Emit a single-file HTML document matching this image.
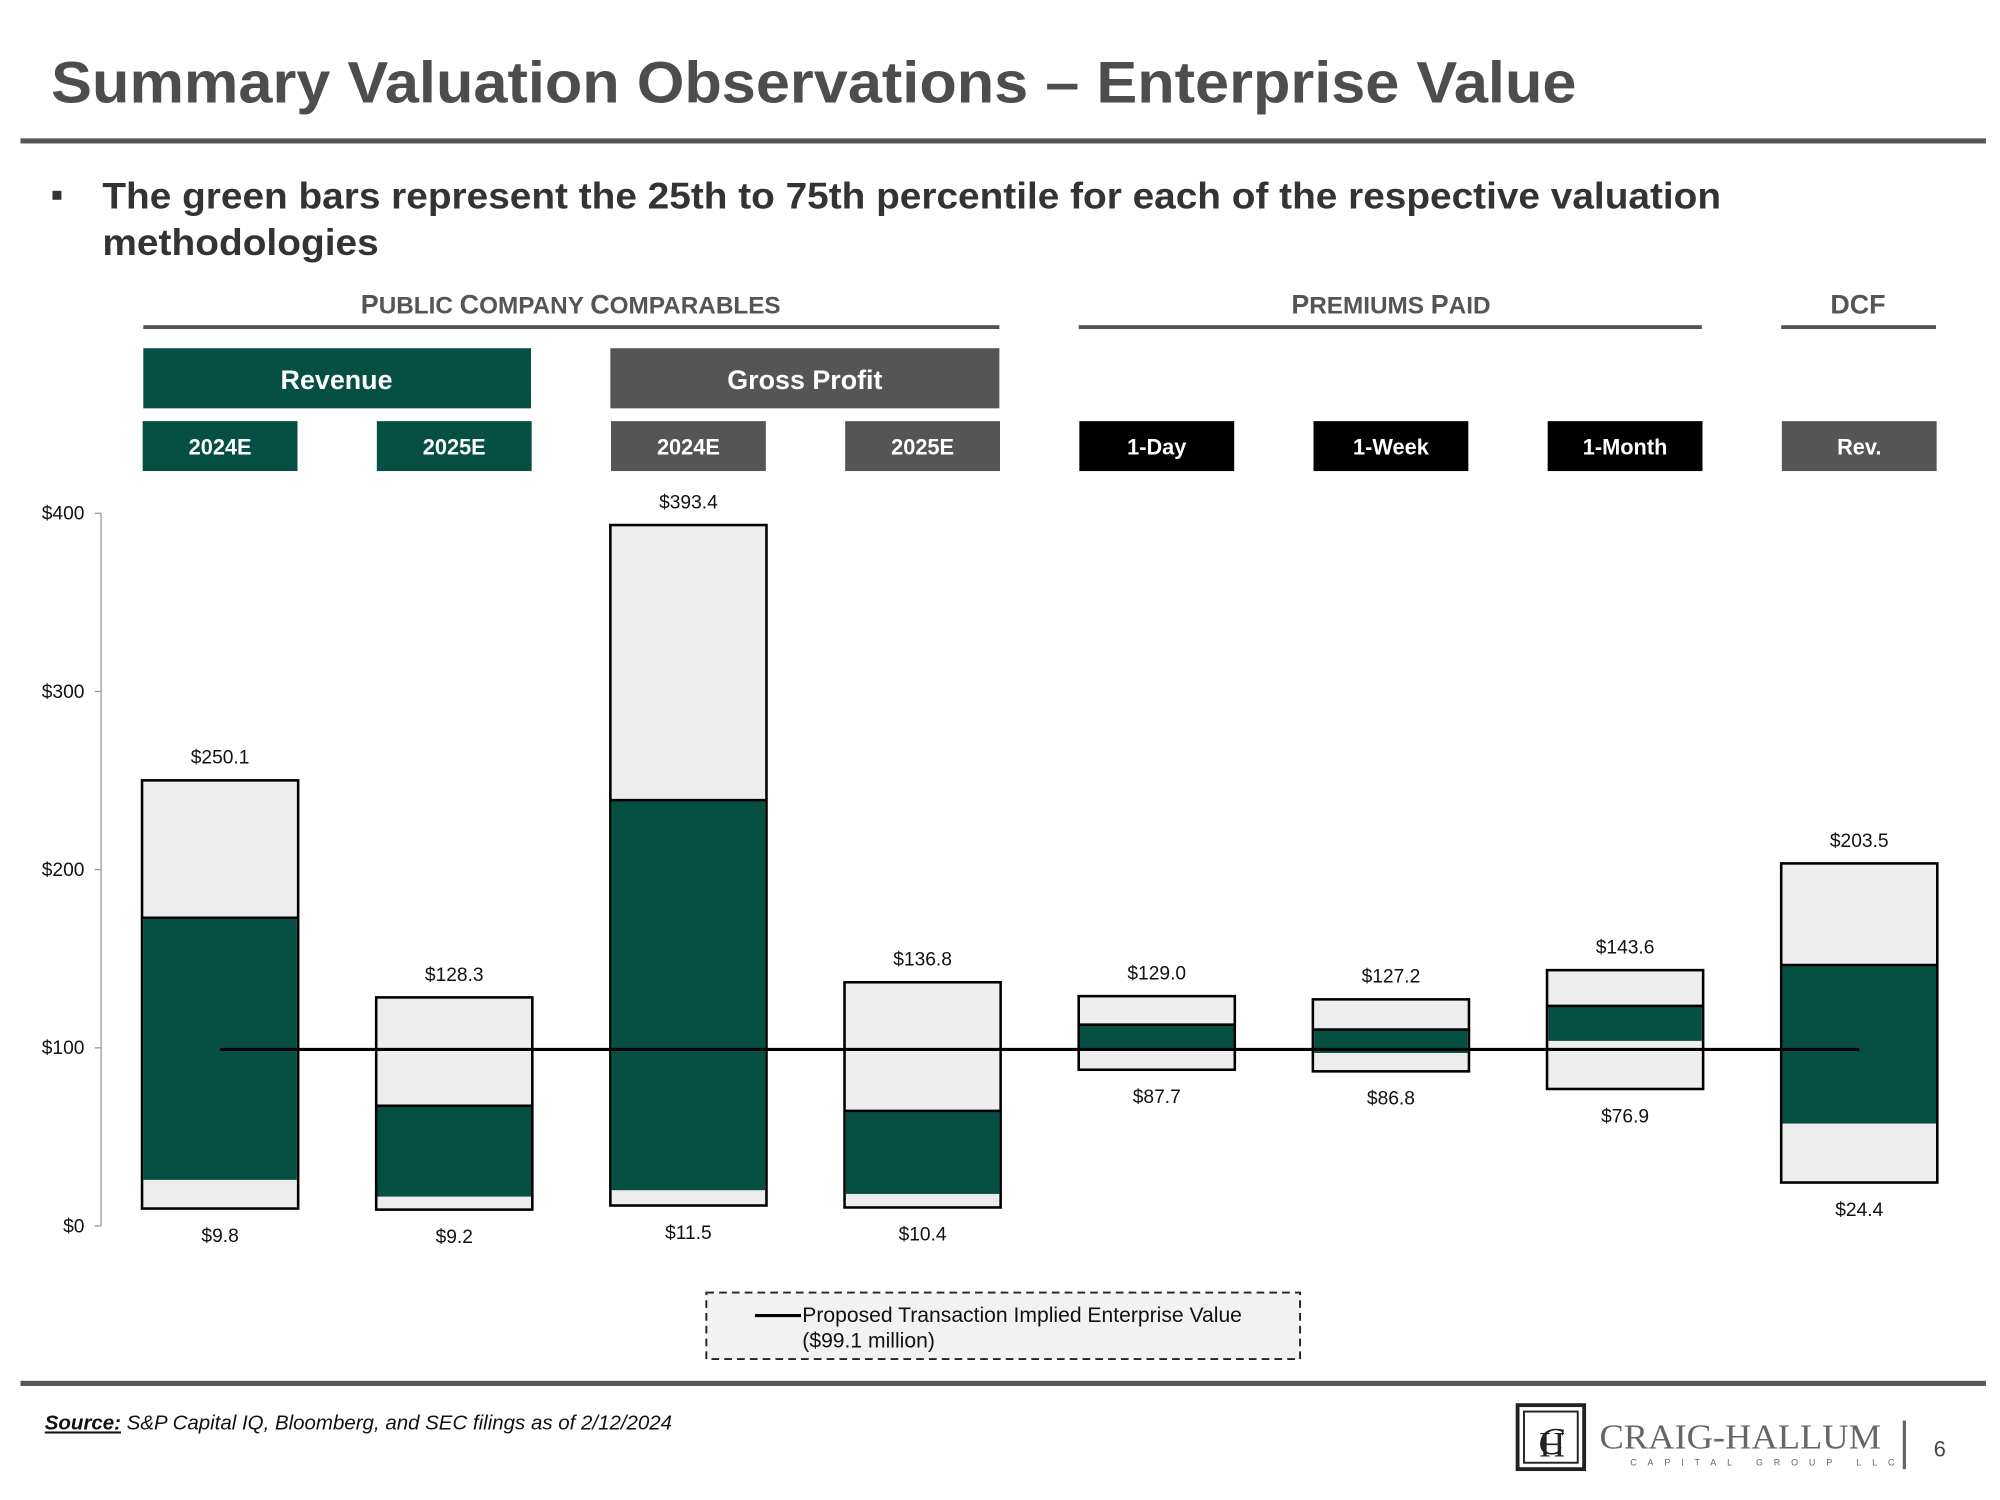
<!DOCTYPE html>
<html><head><meta charset="utf-8"><style>
html,body{margin:0;padding:0;background:#fff;}
svg{display:block;font-family:"Liberation Sans",Arial,sans-serif;}
</style></head><body>
<svg id="chart" width="2000" height="1500" viewBox="0 0 1563 1172" xmlns="http://www.w3.org/2000/svg">
<text x="40" y="80" font-size="46" font-weight="bold" fill="#4d4d4d" textLength="1192" lengthAdjust="spacingAndGlyphs">Summary Valuation Observations – Enterprise Value</text>
<rect x="16" y="108" width="1536" height="4" fill="#555"/>
<rect x="41" y="149" width="7" height="7" fill="#333"/>
<text font-size="29" font-weight="bold" fill="#333"><tspan x="80" y="163" textLength="1265" lengthAdjust="spacingAndGlyphs">The green bars represent the 25th to 75th percentile for each of the respective valuation</tspan><tspan x="80" y="199" textLength="216" lengthAdjust="spacingAndGlyphs">methodologies</tspan></text>

<g font-weight="bold" fill="#555" text-anchor="middle">
<text x="446" y="245" font-size="19"><tspan font-size="21">P</tspan>UBLIC <tspan font-size="21">C</tspan>OMPANY <tspan font-size="21">C</tspan>OMPARABLES</text>
<rect x="112" y="254" width="669" height="3" fill="#555"/>
<text x="1087" y="245" font-size="19"><tspan font-size="21">P</tspan>REMIUMS <tspan font-size="21">P</tspan>AID</text>
<rect x="843" y="254" width="487" height="3" fill="#555"/>
<text x="1452" y="245" font-size="21">DCF</text>
<rect x="1392" y="254" width="121" height="3" fill="#555"/>
</g>

<g font-weight="bold" fill="#fff" text-anchor="middle">
<rect x="112" y="272" width="303" height="47" fill="#064f43"/>
<text x="263" y="304" font-size="21" fill="#fff">Revenue</text>
<rect x="477" y="272" width="304" height="47" fill="#555"/>
<text x="629" y="304" font-size="21" fill="#fff">Gross Profit</text>
</g>
<g id="subboxes"></g>

<line x1="79" y1="401" x2="79" y2="958" stroke="#999" stroke-width="1"/>
<g id="axis"></g>
<g id="bars"></g>
<g id="refline"></g>

<g>
<rect x="552" y="1010" width="464" height="52" fill="#f2f2f2" stroke="#222" stroke-width="1.5" stroke-dasharray="6,4"/>
<line x1="590" y1="1028" x2="626" y2="1028" stroke="#000" stroke-width="2.5"/>
<text font-size="16.5" fill="#111"><tspan x="627" y="1033">Proposed Transaction Implied Enterprise Value</tspan><tspan x="627" y="1053">($99.1 million)</tspan></text>
</g>

<rect x="16" y="1079" width="1536" height="4" fill="#555"/>
<text x="35" y="1117" font-size="16" font-style="italic" fill="#111"><tspan font-weight="bold" text-decoration="underline">Source:</tspan> S&amp;P Capital IQ, Bloomberg, and SEC filings as of 2/12/2024</text>
<g>
<rect x="1186" y="1098" width="52" height="50" fill="none" stroke="#222" stroke-width="3"/>
<rect x="1191" y="1103" width="42" height="40" fill="none" stroke="#222" stroke-width="1.5"/>
<text x="1212" y="1136" font-family="Liberation Serif,serif" font-size="30" font-style="italic" fill="#222" text-anchor="middle">C</text>
<text x="1213" y="1138" font-family="Liberation Serif,serif" font-size="28" fill="#222" text-anchor="middle">H</text>
<text x="1250" y="1132" font-family="Liberation Serif,serif" font-size="27" fill="#666" textLength="220" lengthAdjust="spacingAndGlyphs">CRAIG-HALLUM</text>
<text x="1274" y="1145" font-size="7" fill="#666" letter-spacing="8.5">CAPITAL GROUP LLC</text>
</g>
<rect x="1487" y="1110" width="2.5" height="38" fill="#666"/>
<text x="1516" y="1138" font-size="17" fill="#444" text-anchor="middle">6</text>
</svg>
<script>
const categories = ["Rev 2024E","Rev 2025E","GP 2024E","GP 2025E","1-Day","1-Week","1-Month","DCF Rev."];
const subLabels = ["2024E","2025E","2024E","2025E","1-Day","1-Week","1-Month","Rev."];
const lowValues = [9.8, 9.2, 11.5, 10.4, 87.7, 86.8, 76.9, 24.4];
const highValues = [250.1, 128.3, 393.4, 136.8, 129.0, 127.2, 143.6, 203.5];
const q25Values = [25.9, 16.5, 20.1, 18.0, 99.0, 97.1, 103.9, 57.5];
const q75Values = [173.0, 67.5, 239.0, 64.6, 113.0, 110.3, 123.5, 146.5];
const tickValues = [0, 100, 200, 300, 400];
const tickLabels = ["$0","$100","$200","$300","$400"];
const refValue = 99.1;

const NS = "http://www.w3.org/2000/svg";
const y0 = 958, y400 = 401, axisMax = 400;
function yScale(v){ return y0 - (v / axisMax) * (y0 - y400); }
const slotStart = 172, slotStep = 183.0, barW = 122;
function xCenter(i){ return slotStart + i * slotStep; }
function mk(tag, attrs, parent){
  const e = document.createElementNS(NS, tag);
  for (const k in attrs) e.setAttribute(k, attrs[k]);
  parent.appendChild(e); return e;
}
const subFills = ["#064f43","#064f43","#555","#555","#000","#000","#000","#555"];
const sub = document.getElementById("subboxes");
subLabels.forEach((s,i)=>{
  const r = mk("rect",{x:xCenter(i)-60.5,y:329,width:121,height:39,fill:subFills[i]},sub);
  
  
  const t = mk("text",{x:xCenter(i),y:355,"font-size":17,"font-weight":"bold",fill:"#fff","text-anchor":"middle"},sub);
  
  
  t.textContent = s;
});
const ax = document.getElementById("axis");
tickValues.forEach((v,i)=>{
  const l = mk("line",{x1:74,x2:79,y1:yScale(v),y2:yScale(v),stroke:"#999"},ax);
  
  
  const t = mk("text",{x:66,y:yScale(v)+5,"font-size":15,fill:"#111","text-anchor":"end"},ax);
  
  
  t.textContent = tickLabels[i];
});
const bars = document.getElementById("bars");
categories.forEach((c,i)=>{
  const cx = xCenter(i), x = cx - barW/2;
  const yt = yScale(highValues[i]), yb = yScale(lowValues[i]);
  const r = mk("rect",{x:x,y:yt,width:barW,height:yb-yt,fill:"#ededed",stroke:"#000","stroke-width":2},bars);
  
  
  const g1 = yScale(q75Values[i]), g2 = yScale(q25Values[i]);
  const g = mk("rect",{x:x+1,y:g1,width:barW-2,height:g2-g1,fill:"#064f43"},bars);
  
  
  mk("line",{x1:x,x2:x+barW,y1:g1,y2:g1,stroke:"#000","stroke-width":2},bars);
  const th = mk("text",{x:cx,y:yt-13,"font-size":15,fill:"#111","text-anchor":"middle"},bars);
  
  
  th.textContent = "$" + highValues[i].toFixed(1);
  const tl = mk("text",{x:cx,y:yb+26,"font-size":15,fill:"#111","text-anchor":"middle"},bars);
  
  
  tl.textContent = "$" + lowValues[i].toFixed(1);
});
const ref = mk("line",{x1:xCenter(0),x2:xCenter(categories.length-1),y1:yScale(refValue),y2:yScale(refValue),stroke:"#000","stroke-width":2.5},document.getElementById("refline"));


</script>
</body></html>
